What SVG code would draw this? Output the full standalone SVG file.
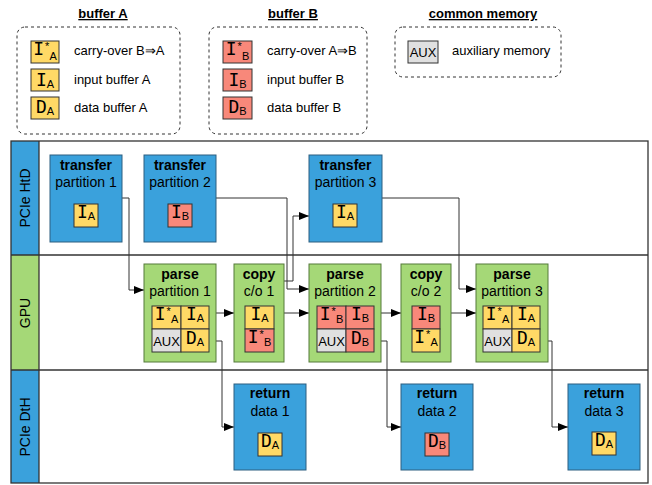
<svg xmlns="http://www.w3.org/2000/svg" width="652" height="485" viewBox="0 0 652 485">
<defs>
<marker id="arr" markerUnits="userSpaceOnUse" markerWidth="11" markerHeight="8" refX="10" refY="4" orient="auto">
<path d="M0,0 L10,4 L0,8 z" fill="#000"/>
</marker>
<style>
text{font-family:"Liberation Sans",Arial,sans-serif;fill:#000}
.ttl{font-size:13px;font-weight:bold;text-decoration:underline;text-anchor:middle}
.leg{font-size:13px}
.lg{fill:none;stroke:#333;stroke-width:1;stroke-dasharray:3,3}
.hd{font-size:14px;font-weight:bold;text-anchor:middle}
.sub{font-size:14px;text-anchor:middle}
.lane{font-size:14px;text-anchor:middle}
.blue{fill:#3AA1DC;stroke:#2d5f80;stroke-width:1}
.green{fill:#A5D877;stroke:#557a3a;stroke-width:1}
.ya{fill:#FFD966;stroke:#333;stroke-width:1}
.rb{fill:#F8887A;stroke:#333;stroke-width:1}
.gx{fill:#E0E0E0;stroke:#333;stroke-width:1}
.sw{text-anchor:middle}
.big{font-family:"DejaVu Sans Mono",monospace;font-size:18px}
.sm{font-size:11px}
.aux{font-size:13px;text-anchor:middle}
.frame{fill:none;stroke:#333;stroke-width:1.3}
.conn path{fill:none;stroke:#333;stroke-width:1;marker-end:url(#arr)}
</style>
</defs>
<rect width="652" height="485" fill="#fff"/>

<!-- legends -->
<g id="legend-a">
<text class="ttl" x="103" y="18">buffer A</text>
<rect class="lg" x="17" y="27" width="163" height="107" rx="8"/>
<rect class="ya" x="31" y="41" width="28" height="22"/>
<text class="sw" x="45" y="55"><tspan class="big">I</tspan><tspan class="sm" dx="1" dy="-5">*</tspan><tspan class="sm" dy="10">A</tspan></text>
<text class="leg" x="74" y="55">carry-over B⇒A</text>
<rect class="ya" x="31" y="69" width="28" height="22"/>
<text class="sw" x="45" y="86"><tspan class="big">I</tspan><tspan class="sm" dy="2">A</tspan></text>
<text class="leg" x="74" y="84">input buffer A</text>
<rect class="ya" x="31" y="97" width="28" height="22"/>
<text class="sw" x="45" y="113"><tspan class="big">D</tspan><tspan class="sm" dy="2">A</tspan></text>
<text class="leg" x="74" y="112">data buffer A</text>
</g>

<g id="legend-b">
<text class="ttl" x="293" y="18">buffer B</text>
<rect class="lg" x="209" y="27" width="158" height="107" rx="8"/>
<rect class="rb" x="223" y="41" width="29" height="22"/>
<text class="sw" x="237.5" y="55"><tspan class="big">I</tspan><tspan class="sm" dx="1" dy="-5">*</tspan><tspan class="sm" dy="10">B</tspan></text>
<text class="leg" x="267" y="55">carry-over A⇒B</text>
<rect class="rb" x="223" y="69" width="29" height="22"/>
<text class="sw" x="237.5" y="86"><tspan class="big">I</tspan><tspan class="sm" dy="2">B</tspan></text>
<text class="leg" x="267" y="84">input buffer B</text>
<rect class="rb" x="223" y="97" width="29" height="22"/>
<text class="sw" x="237.5" y="113"><tspan class="big">D</tspan><tspan class="sm" dy="2">B</tspan></text>
<text class="leg" x="267" y="112">data buffer B</text>
</g>

<g id="legend-common">
<text class="ttl" x="483" y="18">common memory</text>
<rect class="lg" x="395" y="27" width="166" height="50" rx="8"/>
<rect class="gx" x="408" y="41" width="30" height="22"/>
<text class="aux" x="423" y="57">AUX</text>
<text class="leg" x="452" y="55">auxiliary memory</text>
</g>

<!-- lanes -->
<g id="lanes">
<rect x="11" y="141" width="28" height="114" fill="#3AA1DC"/>
<rect x="11" y="255" width="28" height="115" fill="#A5D877"/>
<rect x="11" y="370" width="28" height="113" fill="#3AA1DC"/>
<rect class="frame" x="11" y="141" width="637" height="342"/>
<line class="frame" x1="11" y1="255" x2="648" y2="255"/>
<line class="frame" x1="11" y1="370" x2="648" y2="370"/>
<line class="frame" x1="39" y1="141" x2="39" y2="483"/>
<text class="lane" transform="translate(30,198) rotate(-90)">PCIe HtD</text>
<text class="lane" transform="translate(30,313) rotate(-90)">GPU</text>
<text class="lane" transform="translate(30,427) rotate(-90)">PCIe DtH</text>
</g>

<!-- connectors -->
<g id="connectors" class="conn">
<path d="M122,198 H129 V290 H144"/>
<path d="M216,198 H287 V289 H309"/>
<path d="M284,281 H293 V216 H309"/>
<path d="M382,198 H459 V289 H476"/>
<path d="M216,313 H234"/>
<path d="M284,313 H309"/>
<path d="M381,313 H401"/>
<path d="M451,313 H476"/>
<path d="M216,341 H222 V427 H234"/>
<path d="M381,341 H387 V427 H401"/>
<path d="M548,341 H552 V427 H568"/>
</g>

<!-- transfer nodes -->
<g id="transfer1">
<rect class="blue" x="50" y="155" width="72" height="87"/>
<text class="hd" x="86" y="170">transfer</text>
<text class="sub" x="86" y="187">partition 1</text>
<rect class="ya" x="74" y="204" width="24" height="23"/>
<text class="sw" x="86" y="218"><tspan class="big">I</tspan><tspan class="sm" dy="2">A</tspan></text>
</g>
<g id="transfer2">
<rect class="blue" x="144" y="155" width="72" height="87"/>
<text class="hd" x="180" y="170">transfer</text>
<text class="sub" x="180" y="187">partition 2</text>
<rect class="rb" x="168" y="204" width="24" height="23"/>
<text class="sw" x="180" y="218"><tspan class="big">I</tspan><tspan class="sm" dy="2">B</tspan></text>
</g>
<g id="transfer3">
<rect class="blue" x="309" y="155" width="73" height="87"/>
<text class="hd" x="345.5" y="170">transfer</text>
<text class="sub" x="345.5" y="187">partition 3</text>
<rect class="ya" x="333" y="204" width="24" height="23"/>
<text class="sw" x="345" y="218"><tspan class="big">I</tspan><tspan class="sm" dy="2">A</tspan></text>
</g>

<!-- parse / copy nodes -->
<g id="parse1">
<rect class="green" x="144" y="264" width="72" height="98"/>
<text class="hd" x="180" y="279">parse</text>
<text class="sub" x="180" y="296">partition 1</text>
<rect class="ya" x="152" y="306" width="29" height="23"/>
<text class="sw" x="166.5" y="320"><tspan class="big">I</tspan><tspan class="sm" dx="1" dy="-5">*</tspan><tspan class="sm" dy="8">A</tspan></text>
<rect class="ya" x="181" y="306" width="28" height="23"/>
<text class="sw" x="195" y="320"><tspan class="big">I</tspan><tspan class="sm" dy="2">A</tspan></text>
<rect class="gx" x="152" y="329" width="29" height="23"/>
<text class="aux" x="166.5" y="346">AUX</text>
<rect class="ya" x="181" y="329" width="28" height="23"/>
<text class="sw" x="195" y="344"><tspan class="big">D</tspan><tspan class="sm" dy="2">A</tspan></text>
</g>
<g id="copy1">
<rect class="green" x="234" y="264" width="50" height="98"/>
<text class="hd" x="259" y="279">copy</text>
<text class="sub" x="259" y="296">c/o 1</text>
<rect class="ya" x="245" y="306" width="29" height="23"/>
<text class="sw" x="259.5" y="320"><tspan class="big">I</tspan><tspan class="sm" dy="2">A</tspan></text>
<rect class="rb" x="245" y="329" width="29" height="23"/>
<text class="sw" x="259.5" y="343"><tspan class="big">I</tspan><tspan class="sm" dx="1" dy="-5">*</tspan><tspan class="sm" dy="8">B</tspan></text>
</g>
<g id="parse2">
<rect class="green" x="309" y="264" width="72" height="98"/>
<text class="hd" x="345" y="279">parse</text>
<text class="sub" x="345" y="296">partition 2</text>
<rect class="rb" x="317" y="306" width="29" height="23"/>
<text class="sw" x="331.5" y="320"><tspan class="big">I</tspan><tspan class="sm" dx="1" dy="-5">*</tspan><tspan class="sm" dy="8">B</tspan></text>
<rect class="rb" x="346" y="306" width="28" height="23"/>
<text class="sw" x="360" y="320"><tspan class="big">I</tspan><tspan class="sm" dy="2">B</tspan></text>
<rect class="gx" x="317" y="329" width="29" height="23"/>
<text class="aux" x="331.5" y="346">AUX</text>
<rect class="rb" x="346" y="329" width="28" height="23"/>
<text class="sw" x="360" y="344"><tspan class="big">D</tspan><tspan class="sm" dy="2">B</tspan></text>
</g>
<g id="copy2">
<rect class="green" x="401" y="264" width="50" height="98"/>
<text class="hd" x="426" y="279">copy</text>
<text class="sub" x="426" y="296">c/o 2</text>
<rect class="rb" x="412" y="306" width="28" height="23"/>
<text class="sw" x="426" y="320"><tspan class="big">I</tspan><tspan class="sm" dy="2">B</tspan></text>
<rect class="ya" x="412" y="329" width="28" height="23"/>
<text class="sw" x="426" y="343"><tspan class="big">I</tspan><tspan class="sm" dx="1" dy="-5">*</tspan><tspan class="sm" dy="8">A</tspan></text>
</g>
<g id="parse3">
<rect class="green" x="476" y="264" width="72" height="98"/>
<text class="hd" x="512" y="279">parse</text>
<text class="sub" x="512" y="296">partition 3</text>
<rect class="ya" x="483" y="306" width="29" height="23"/>
<text class="sw" x="497.5" y="320"><tspan class="big">I</tspan><tspan class="sm" dx="1" dy="-5">*</tspan><tspan class="sm" dy="8">A</tspan></text>
<rect class="ya" x="512" y="306" width="28" height="23"/>
<text class="sw" x="526" y="320"><tspan class="big">I</tspan><tspan class="sm" dy="2">A</tspan></text>
<rect class="gx" x="483" y="329" width="29" height="23"/>
<text class="aux" x="497.5" y="346">AUX</text>
<rect class="ya" x="512" y="329" width="28" height="23"/>
<text class="sw" x="526" y="344"><tspan class="big">D</tspan><tspan class="sm" dy="2">A</tspan></text>
</g>

<!-- return nodes -->
<g id="return1">
<rect class="blue" x="234" y="384" width="72" height="86"/>
<text class="hd" x="270" y="398">return</text>
<text class="sub" x="270" y="416">data 1</text>
<rect class="ya" x="258" y="433" width="24" height="23"/>
<text class="sw" x="270" y="447"><tspan class="big">D</tspan><tspan class="sm" dy="2">A</tspan></text>
</g>
<g id="return2">
<rect class="blue" x="401" y="384" width="72" height="86"/>
<text class="hd" x="437" y="398">return</text>
<text class="sub" x="437" y="416">data 2</text>
<rect class="rb" x="425" y="433" width="24" height="23"/>
<text class="sw" x="437" y="447"><tspan class="big">D</tspan><tspan class="sm" dy="2">B</tspan></text>
</g>
<g id="return3">
<rect class="blue" x="568" y="384" width="72" height="86"/>
<text class="hd" x="604" y="398">return</text>
<text class="sub" x="604" y="416">data 3</text>
<rect class="ya" x="592" y="432" width="24" height="23"/>
<text class="sw" x="604" y="446"><tspan class="big">D</tspan><tspan class="sm" dy="2">A</tspan></text>
</g>
</svg>
